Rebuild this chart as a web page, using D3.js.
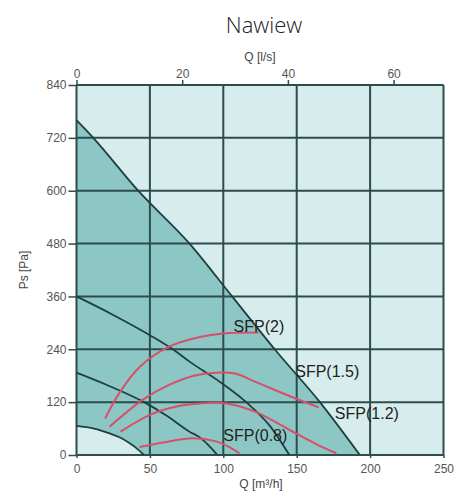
<!DOCTYPE html>
<html><head><meta charset="utf-8">
<script src="https://cdn.jsdelivr.net/npm/d3@7"></script>
<style>body{margin:0;background:#fff}svg{display:block}</style>
</head><body>
<svg id="c" width="456" height="499"></svg>
<script>
const title = "Nawiew";
const qTicks = [0, 50, 100, 150, 200, 250];
const lsTicks = [0, 20, 40, 60];
const psTicks = [0, 120, 240, 360, 480, 600, 720, 840];

// fan curves (Q m3/h, Ps Pa)
const maxQ = [0, 11.4, 42, 77, 106, 135, 165.8, 193];
const maxP = [760, 720, 600, 480, 360, 240, 120, 0];
const curveAQ = [0, 25, 50, 65.6, 77, 96, 115.6, 132, 145];
const curveAP = [360, 318, 272, 240, 212, 170, 120, 65, 0];
const curveBQ = [0, 20, 46, 62, 77, 84, 90, 96];
const curveBP = [187, 160, 120, 88, 53, 40, 22, 0];
const curveCQ = [0, 12, 22.5, 30, 36, 41, 46];
const curveCP = [66, 60, 49, 39, 27, 15, 0];

// SFP curves
const sfpNames = ["SFP(2)", "SFP(1.5)", "SFP(1.2)", "SFP(0.8)"];
const sfp2Q = [19.5, 29, 43, 63, 84, 100, 124];
const sfp2P = [83, 140, 200, 246, 268, 276, 278];
const sfp15Q = [22.5, 45, 63, 80, 95, 108, 122, 145, 165];
const sfp15P = [64, 125, 159, 180, 187, 185, 166, 134, 108];
const sfp12Q = [30, 50, 68, 84, 102, 122, 145, 165, 177];
const sfp12P = [53, 91, 110, 117, 117, 98, 57, 22, 4];
const sfp08Q = [43, 60, 79, 95, 104, 111];
const sfp08P = [18, 29, 38, 31, 18, 4];
// label anchor points (Q, Ps) for each SFP text
const labelQ = [107, 149, 176, 100];
const labelP = [279, 176, 82, 32];

const svg = d3.select("#c");
const x = d3.scaleLinear().domain([0, 250]).range([76.5, 443.5]);
const xTop = d3.scaleLinear().domain([0, 250 / 3.6]).range([76.5, 443.5]);
const y = d3.scaleLinear().domain([0, 840]).range([455, 85]);

const zip = (qs, ps) => qs.map((q, i) => [q, ps[i]]);

// background
svg.append("rect").attr("x", x(0)).attr("y", y(840))
  .attr("width", x(250) - x(0)).attr("height", y(0) - y(840))
  .attr("fill", "#d7eded");

const area = d3.area().x(d => x(d[0])).y0(y(0)).y1(d => y(d[1])).curve(d3.curveMonotoneX);
svg.append("path").datum(zip(maxQ, maxP)).attr("d", area).attr("fill", "#8cc7c5");
svg.append("path").datum(zip(curveCQ, curveCP)).attr("d", area).attr("fill", "#d7eded");

// grid
const gridCol = "#2d4d4d";
svg.append("g").selectAll("line").data(qTicks).join("line")
  .attr("x1", d => x(d)).attr("x2", d => x(d)).attr("y1", y(0)).attr("y2", y(840))
  .attr("stroke", gridCol).attr("stroke-width", 2);
svg.append("g").selectAll("line").data(psTicks).join("line")
  .attr("x1", x(0)).attr("x2", x(250)).attr("y1", d => y(d)).attr("y2", d => y(d))
  .attr("stroke", gridCol).attr("stroke-width", 2);

// axes
const font = "'Liberation Sans', Arial, sans-serif";
const yAxis = svg.append("g").attr("transform", `translate(${x(0)},0)`)
  .call(d3.axisLeft(y).tickValues(psTicks).tickSize(8).tickPadding(2));
const xAxis = svg.append("g").attr("transform", `translate(0,${y(0)})`)
  .call(d3.axisBottom(x).tickValues(qTicks).tickSize(3).tickPadding(6));
const xTopAxis = svg.append("g").attr("transform", `translate(0,${y(840)})`)
  .call(d3.axisTop(xTop).tickValues(lsTicks).tickSize(5).tickPadding(2));
[yAxis, xAxis, xTopAxis].forEach(g => {
  g.select(".domain").remove();
  g.selectAll(".tick line").attr("stroke", gridCol).attr("stroke-width", 1.5);
  g.selectAll("text").attr("fill", "#555").style("font-family", font).style("font-size", "12px");
});

// fan curves
const line = d3.line().x(d => x(d[0])).y(d => y(d[1])).curve(d3.curveMonotoneX);
[[maxQ, maxP], [curveAQ, curveAP], [curveBQ, curveBP], [curveCQ, curveCP]].forEach(([q, p]) => {
  svg.append("path").datum(zip(q, p)).attr("d", line)
    .attr("fill", "none").attr("stroke", "#1f3f3f").attr("stroke-width", 1.8);
});

// SFP curves
const redLine = d3.line().x(d => x(d[0])).y(d => y(d[1])).curve(d3.curveCatmullRom);
[[sfp2Q, sfp2P], [sfp15Q, sfp15P], [sfp12Q, sfp12P], [sfp08Q, sfp08P]].forEach(([q, p]) => {
  svg.append("path").datum(zip(q, p)).attr("d", redLine)
    .attr("fill", "none").attr("stroke", "#d6506a").attr("stroke-width", 2);
});

svg.append("g").selectAll("text").data(sfpNames).join("text")
  .attr("x", (d, i) => x(labelQ[i])).attr("y", (d, i) => y(labelP[i]))
  .attr("fill", "#222").style("font-family", font).style("font-size", "16px")
  .text(d => d);

// titles
svg.append("text").attr("x", 264).attr("y", 33).attr("text-anchor", "middle")
  .style("font-family", "'Open Sans', 'Noto Sans', sans-serif").style("font-size", "22px")
  .style("font-weight", 300).attr("fill", "#222").text(title);
svg.append("text").attr("x", 260).attr("y", 61).attr("text-anchor", "middle")
  .style("font-family", font).style("font-size", "12px").attr("fill", "#444").text("Q [l/s]");
svg.append("text").attr("x", 261).attr("y", 488).attr("text-anchor", "middle")
  .style("font-family", font).style("font-size", "12px").attr("fill", "#444").text("Q [m³/h]");
svg.append("text").attr("transform", "translate(28,270) rotate(-90)").attr("text-anchor", "middle")
  .style("font-family", font).style("font-size", "12px").attr("fill", "#444").text("Ps [Pa]");
</script>
</body></html>
